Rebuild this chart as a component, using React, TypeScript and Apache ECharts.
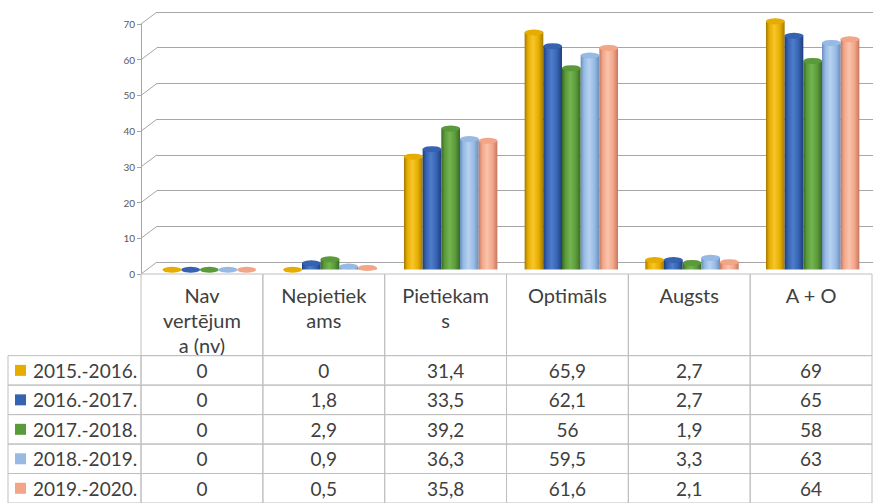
import React, { useEffect, useRef } from 'react';
import * as echarts from 'echarts';

const categories = ['Nav vertējuma (nv)', 'Nepietiekams', 'Pietiekams', 'Optimāls', 'Augsts', 'A + O'];
const headerLines = ['Nav\nvertējum\na (nv)', 'Nepietiek\nams', 'Pietiekam\ns', 'Optimāls', 'Augsts', 'A + O'];
const years = ['2015.-2016.', '2016.-2017.', '2017.-2018.', '2018.-2019.', '2019.-2020.'];
const v2015 = [0, 0, 31.4, 65.9, 2.7, 69];
const v2016 = [0, 1.8, 33.5, 62.1, 2.7, 65];
const v2017 = [0, 2.9, 39.2, 56, 1.9, 58];
const v2018 = [0, 0.9, 36.3, 59.5, 3.3, 63];
const v2019 = [0, 0.5, 35.8, 61.6, 2.1, 64];
const yTicks = [0, 10, 20, 30, 40, 50, 60, 70];

const seriesValues = [v2015, v2016, v2017, v2018, v2019];
const palette = [
  { base: '#E6AD00', light: '#F6C62A', dark: '#A27A00' },
  { base: '#3662B2', light: '#4E7DCB', dark: '#1F3E78' },
  { base: '#5B9A3A', light: '#74B450', dark: '#3A6824' },
  { base: '#96BAE4', light: '#B7D1F1', dark: '#6A8EBB' },
  { base: '#F3A588', light: '#F9C3AE', dark: '#C27861' },
];

const LABEL_UNITS = 1.092;
const HEADER_UNITS = 2.77;
const FONT = 'Lato, "Open Sans", sans-serif';

const fmt = (v: number) => String(v).replace('.', ',');

type Cell = { x0: number; x1: number; y0: number; y1: number; text: string; kind: string; color?: string };

function buildCells(): Cell[] {
  const cells: Cell[] = [];
  for (let c = 0; c < categories.length; c++) {
    cells.push({ x0: c, x1: c + 1, y0: -HEADER_UNITS, y1: 0, text: headerLines[c], kind: 'header' });
  }
  for (let r = 0; r < years.length; r++) {
    cells.push({ x0: -LABEL_UNITS, x1: 0, y0: r, y1: r + 1, text: years[r], kind: 'label', color: palette[r].base });
    for (let c = 0; c < categories.length; c++) {
      cells.push({ x0: c, x1: c + 1, y0: r, y1: r + 1, text: fmt(seriesValues[r][c]), kind: 'data' });
    }
  }
  return cells;
}

export default function App() {
  const ref = useRef<HTMLDivElement>(null);
  useEffect(() => {
    if (!ref.current) return;
    const chart = echarts.init(ref.current, null, { renderer: 'svg' });
    const cells = buildCells();
    const gap = '22.6%';

    const barSeries: any[] = seriesValues.map((vals, i) => ({
      type: 'bar',
      name: years[i],
      xAxisIndex: 2,
      yAxisIndex: 2,
      data: vals,
      barGap: '0%',
      barCategoryGap: gap,
      z: 2,
      itemStyle: {
        color: new echarts.graphic.LinearGradient(0, 0, 1, 0, [
          { offset: 0, color: palette[i].dark },
          { offset: 0.18, color: palette[i].base },
          { offset: 0.45, color: palette[i].light },
          { offset: 0.75, color: palette[i].base },
          { offset: 1, color: palette[i].dark },
        ]),
      },
    }));

    const topSeries: any[] = seriesValues.map((vals, i) => ({
      type: 'pictorialBar',
      name: years[i] + ' ',
      xAxisIndex: 2,
      yAxisIndex: 2,
      data: vals,
      barGap: '0%',
      barCategoryGap: gap,
      symbol: 'circle',
      symbolSize: ['100%', 6],
      symbolPosition: 'end',
      symbolOffset: [0, '-50%'],
      z: 4,
      itemStyle: { color: palette[i].base, borderColor: palette[i].dark, borderWidth: 0.8 },
    }));

    chart.setOption({
      animation: false,
      backgroundColor: '#ffffff',
      grid: [
        { left: 141, top: 24, width: 16, height: 250 },
        { left: 157, right: 0, top: 12, height: 250 },
        { left: 149, width: 729, top: 17.5, height: 252 },
        { left: 8, right: 1, top: 274, height: 234.7 },
      ],
      xAxis: [
        { gridIndex: 0, type: 'value', min: 0, max: 1, show: false },
        { gridIndex: 1, type: 'value', min: 0, max: 1, show: false },
        { gridIndex: 2, type: 'category', data: categories, show: false },
        { gridIndex: 3, type: 'value', min: -LABEL_UNITS, max: 6, show: false },
      ],
      yAxis: [
        {
          gridIndex: 0, type: 'value', min: 0, max: 70, interval: 10,
          axisLine: { show: true, lineStyle: { color: '#A6A6A6', width: 1 } },
          axisTick: { show: true, length: 4, lineStyle: { color: '#A6A6A6' } },
          axisLabel: { fontSize: 10, color: '#595959', margin: 6, fontFamily: FONT },
          splitLine: { show: false },
        },
        {
          gridIndex: 1, type: 'value', min: 0, max: 70, interval: 10,
          axisLine: { show: false }, axisTick: { show: false }, axisLabel: { show: false },
          splitLine: { show: true, lineStyle: { color: '#A6A6A6', width: 1 } },
        },
        { gridIndex: 2, type: 'value', min: 0, max: 70, show: false },
        { gridIndex: 3, type: 'value', min: -HEADER_UNITS, max: 5, inverse: true, show: false },
      ],
      series: [
        {
          type: 'custom',
          xAxisIndex: 0,
          yAxisIndex: 0,
          data: yTicks.map((v) => [0, v]),
          silent: true,
          renderItem: (params: any, api: any) => {
            const v = api.value(1);
            const p0 = api.coord([0, v]);
            const p1 = api.coord([1, v]);
            return {
              type: 'line',
              shape: { x1: p0[0], y1: p0[1], x2: p1[0], y2: p1[1] - 12 },
              style: { stroke: '#A6A6A6', lineWidth: 1 },
            };
          },
        },
        ...barSeries,
        ...topSeries,
        {
          type: 'custom',
          xAxisIndex: 3,
          yAxisIndex: 3,
          silent: true,
          clip: false,
          data: cells.map((c) => [c.x0, c.y0, c.x1, c.y1]),
          renderItem: (params: any, api: any) => {
            const cell = cells[params.dataIndex];
            const p0 = api.coord([api.value(0), api.value(1)]);
            const p1 = api.coord([api.value(2), api.value(3)]);
            const x = p0[0];
            const y = p0[1];
            const w = p1[0] - p0[0];
            const h = p1[1] - p0[1];
            const children: any[] = [
              {
                type: 'rect',
                shape: { x, y, width: w, height: h },
                style: { fill: 'none', stroke: '#BFBFBF', lineWidth: 1 },
              },
            ];
            if (cell.kind === 'header') {
              children.push({
                type: 'text',
                x: x + w / 2,
                y: y + 8.5,
                style: {
                  text: cell.text, fill: '#404040', fontSize: 20, fontFamily: FONT,
                  align: 'center', verticalAlign: 'top', textAlign: 'center', textVerticalAlign: 'top', lineHeight: 25,
                },
              });
            } else if (cell.kind === 'data') {
              children.push({
                type: 'text',
                x: x + w / 2,
                y: y + h / 2,
                style: {
                  text: cell.text, fill: '#404040', fontSize: 19, fontFamily: FONT,
                  align: 'center', verticalAlign: 'middle', textAlign: 'center', textVerticalAlign: 'middle',
                },
              });
            } else {
              children.push({
                type: 'rect',
                shape: { x: x + 7, y: y + h / 2 - 5.5, width: 11, height: 11 },
                style: { fill: cell.color },
              });
              children.push({
                type: 'text',
                x: x + 25,
                y: y + h / 2,
                style: {
                  text: cell.text, fill: '#404040', fontSize: 19, fontFamily: FONT,
                  align: 'left', verticalAlign: 'middle', textAlign: 'left', textVerticalAlign: 'middle',
                },
              });
            }
            return { type: 'group', children };
          },
        },
      ],
    });
    return () => chart.dispose();
  }, []);
  return <div ref={ref} style={{ position: 'fixed', left: 0, top: 0, width: 873, height: 503 }} />;
}
